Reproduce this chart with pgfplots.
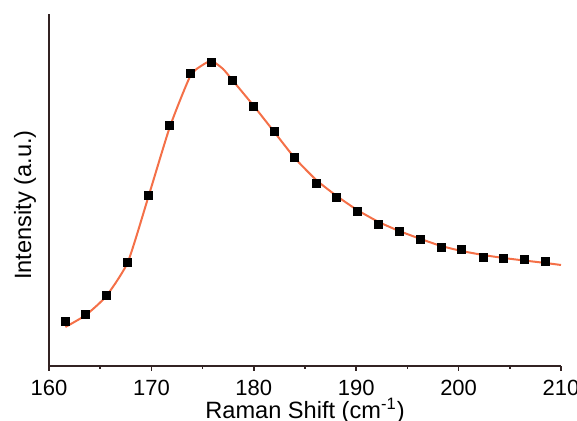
\documentclass[border=0pt]{standalone}
\usepackage{pgfplots}
\pgfplotsset{compat=1.18}
\usepackage{fontspec}
\setmainfont{Liberation Sans}
\definecolor{fitorange}{RGB}{244,112,72}
\definecolor{axisdark}{RGB}{50,35,35}
\begin{document}
\begin{tikzpicture}
\path[use as bounding box] (-24.5pt,-27.5pt) rectangle (264pt,183pt);
\begin{axis}[
  at={(0,0)}, anchor=south west,
  scale only axis,
  width=256pt, height=176pt,
  xmin=160, xmax=210, ymin=3, ymax=355,
  axis x line=bottom, axis y line=left,
  axis line style={-, line width=1pt, draw=axisdark},
  xtick={160,170,...,210},
  minor x tick num=1,
  ytick=\empty,
  tick align=outside,
  major tick length=2.5pt, minor tick length=1.5pt,
  tick style={line width=0.8pt, draw=axisdark},
  /pgf/number format/assume math mode=true,
  ticklabel style={font=\fontsize{11}{13}\selectfont},
  xticklabel style={inner sep=0pt, anchor=north, yshift=-4.2pt},
  xlabel={Raman Shift (cm\textsuperscript{-1})},
  ylabel={Intensity (a.u.)},
  label style={font=\fontsize{11.8}{14}\selectfont},
  xlabel style={at={(axis description cs:0.5,0)}, anchor=base, inner sep=0pt, yshift=-26.3pt},
  ylabel style={at={(axis description cs:-0.047,0.457)}, anchor=center},
  clip=false,
]
\addplot[fitorange, line width=1pt, smooth, tension=0.35] coordinates {
(161.6,42) (163.6,54) (165.6,73) (167.7,107) (169.7,172) (171.8,242) (173.8,293)
(175.0,304) (175.9,308) (177.0,300) (177.9,289) (180.0,263) (182.0,237) (184.0,211) (186.1,189) (188.1,173)
(190.1,159) (192.2,147) (194.2,138) (196.3,130) (198.3,123) (200.3,118) (202.4,114)
(204.4,111) (206.4,108.5) (208.5,106) (210.0,104)
};
\addplot[only marks, mark=square*, mark size=2pt, mark options={fill=black, draw=black}] coordinates {
(161.6,48) (163.6,54.3) (165.6,73.3) (167.7,106.7) (169.7,173.3) (171.8,243.3)
(173.8,296) (175.9,307) (177.9,288.7) (180.0,262.7) (182.0,237.3) (184.0,211.7)
(186.1,186) (188.1,172) (190.1,157.3) (192.2,144.7) (194.2,137.3) (196.3,129.7)
(198.3,121.7) (200.3,120) (202.4,111.3) (204.4,110.7) (206.4,109.3) (208.5,107.3)
};
\end{axis}
\end{tikzpicture}
\end{document}
